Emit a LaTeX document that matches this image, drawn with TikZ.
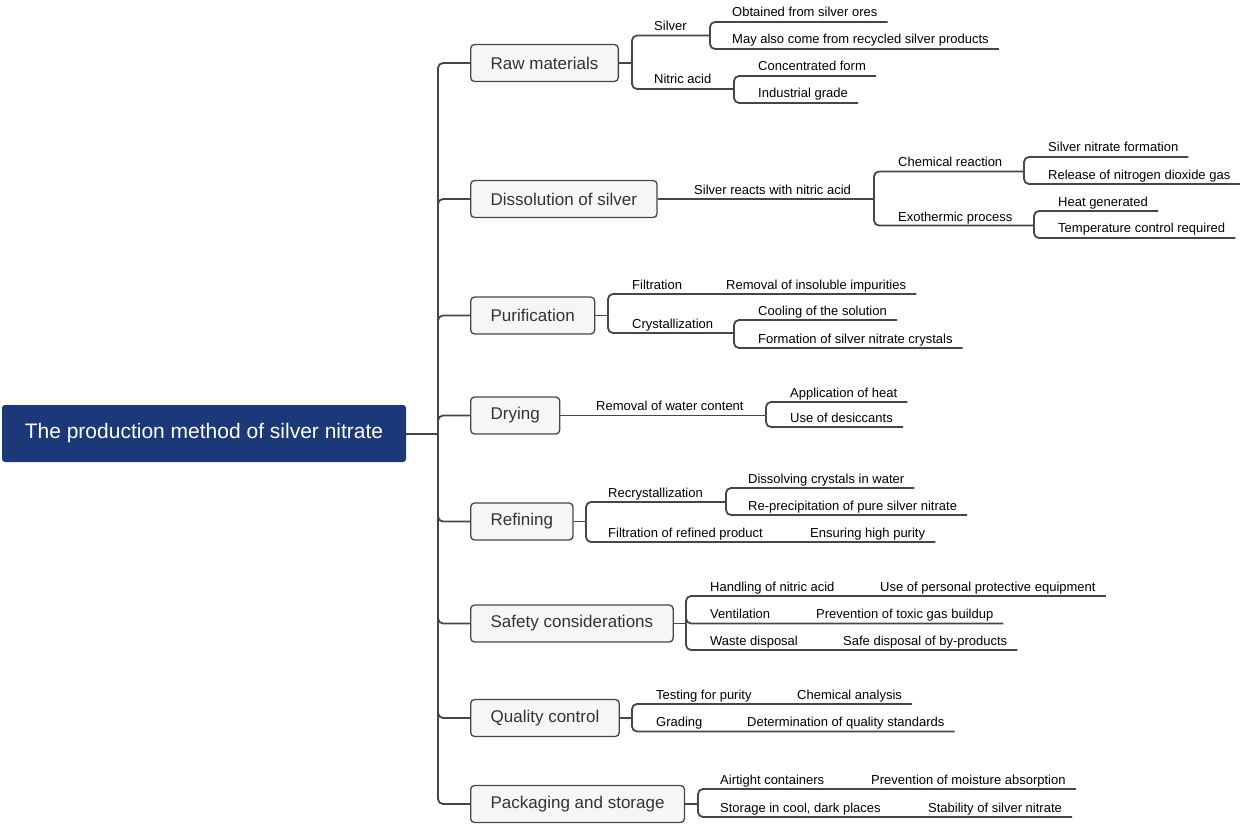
\documentclass[tikz,border=0pt]{standalone}
\usepackage{fontspec}
\setmainfont{Liberation Sans}
\usetikzlibrary{calc}
\definecolor{rootblue}{RGB}{27,56,121}
\definecolor{linegray}{RGB}{70,70,70}
\definecolor{boxfill}{RGB}{246,246,246}
\begin{document}
\begin{tikzpicture}[x=1pt, y=-1pt,
                    rnode/.style = {shape = rectangle,
                                    rounded corners = 3pt,
                                    fill = rootblue,
                                    text = white,
                                    minimum width = 404pt,
                                    minimum height = 57pt,
                                    font=\fontsize{21}{25}\selectfont},
                    bnode/.style = {shape = rectangle,
                                    rounded corners = 4pt,
                                    draw = linegray,
                                    line width = 1.3pt,
                                    fill = boxfill,
                                    text = black!80,
                                    anchor = west,
                                    inner xsep = 20pt,
                                    minimum height = 37pt,
                                    font=\fontsize{17}{20}\selectfont},
                    lnode/.style = {anchor = base west,
                                    inner sep = 0pt,
                                    font=\fontsize{13}{15}\selectfont},
                    conn/.style = {draw = linegray,
                                   line width = 1.8pt,
                                   rounded corners = 5pt}]
		\useasboundingbox (0,0) rectangle (1240,824);
		% root and spine
		\node[rnode] (root) at (204,433.5) {The production method of silver nitrate};
		\coordinate (sp) at (438,434);
		\draw[conn] (root.east |- sp) -- (sp);
		\node[bnode] (raw)  at (470,63)    {Raw materials};
		\node[bnode] (diss) at (470,199)   {Dissolution of silver};
		\node[bnode] (puri) at (470,315.5) {Purification};
		\node[bnode] (dry)  at (470,415.5) {Drying};
		\node[bnode] (refi) at (470,521.5) {Refining};
		\node[bnode] (safe) at (470,623.5) {Safety considerations};
		\node[bnode] (qual) at (470,718)   {Quality control};
		\node[bnode] (pack) at (470,804)   {Packaging and storage};
		\draw[conn] (sp) |- (raw.west);
		\draw[conn] (sp) |- (diss.west);
		\draw[conn] (sp) |- (puri.west);
		\draw[conn] (sp) |- (dry.west);
		\draw[conn] (sp) |- (refi.west);
		\draw[conn] (sp) |- (safe.west);
		\draw[conn] (sp) |- (qual.west);
		\draw[conn] (sp) |- (pack.west);
		% raw materials
		\coordinate (rawb) at (632,63);
		\draw[conn] (raw.east) -- (rawb);
		\node[lnode] (silver) at (654,31) {Silver};
		\node[lnode] (nitric) at (654,84) {Nitric acid};
		\coordinate (silverb) at (710,35.5);
		\coordinate (nitricb) at (734,89);
		\draw[conn] (rawb) |- (silverb);
		\draw[conn] (rawb) |- (nitricb);
		\node[lnode] (ores)  at (732,17) {Obtained from silver ores};
		\node[lnode] (recyc) at (732,44) {May also come from recycled silver products};
		\node[lnode] (conc)  at (758,71) {Concentrated form};
		\node[lnode] (indus) at (758,98) {Industrial grade};
		\draw[conn] (silverb) |- ($(ores.base east)+(10,5)$);
		\draw[conn] (silverb) |- ($(recyc.base east)+(10,5)$);
		\draw[conn] (nitricb) |- ($(conc.base east)+(10,5)$);
		\draw[conn] (nitricb) |- ($(indus.base east)+(10,5)$);
		% dissolution of silver
		\node[lnode] (react) at (694,194) {Silver reacts with nitric acid};
		\coordinate (reactb) at (874,199);
		\draw[conn] (diss.east) -- (reactb);
		\node[lnode] (chem) at (898,167) {Chemical reaction};
		\node[lnode] (exo)  at (898,221) {Exothermic process};
		\coordinate (chemb) at (1024,171.5);
		\coordinate (exob)  at (1034,225.5);
		\draw[conn] (reactb) |- (chemb);
		\draw[conn] (reactb) |- (exob);
		\node[lnode] (form) at (1048,152) {Silver nitrate formation};
		\node[lnode] (gas)  at (1048,179) {Release of nitrogen dioxide gas};
		\node[lnode] (heat) at (1058,206) {Heat generated};
		\node[lnode] (temp) at (1058,233) {Temperature control required};
		\draw[conn] (chemb) |- ($(form.base east)+(10,5)$);
		\draw[conn] (chemb) |- ($(gas.base east)+(10,5)$);
		\draw[conn] (exob) |- ($(heat.base east)+(10,5)$);
		\draw[conn] (exob) |- ($(temp.base east)+(10,5)$);
		% purification
		\coordinate (purib) at (608,315.5);
		\draw[conn] (puri.east) -- (purib);
		\node[lnode] (filt)  at (632,289) {Filtration};
		\node[lnode] (insol) at (726,289) {Removal of insoluble impurities};
		\node[lnode] (cryst) at (632,328) {Crystallization};
		\coordinate (crystb) at (734,333);
		\draw[conn] (purib) |- ($(insol.base east)+(10,5)$);
		\draw[conn] (purib) |- (crystb);
		\node[lnode] (cool)  at (758,315) {Cooling of the solution};
		\node[lnode] (cform) at (758,343) {Formation of silver nitrate crystals};
		\draw[conn] (crystb) |- ($(cool.base east)+(10,5)$);
		\draw[conn] (crystb) |- ($(cform.base east)+(10,5)$);
		% drying
		\node[lnode] (water) at (596,410.5) {Removal of water content};
		\coordinate (waterb) at (766,415.5);
		\draw[conn] (dry.east) -- (waterb);
		\node[lnode] (apply) at (790,397) {Application of heat};
		\node[lnode] (desic) at (790,422) {Use of desiccants};
		\draw[conn] (waterb) |- ($(apply.base east)+(10,5)$);
		\draw[conn] (waterb) |- ($(desic.base east)+(10,5)$);
		% refining
		\coordinate (refib) at (586,521.5);
		\draw[conn] (refi.east) -- (refib);
		\node[lnode] (recry) at (608,497) {Recrystallization};
		\node[lnode] (rfilt) at (608,537) {Filtration of refined product};
		\node[lnode] (purity) at (810,537) {Ensuring high purity};
		\coordinate (recryb) at (726,502);
		\draw[conn] (refib) |- (recryb);
		\draw[conn] (refib) |- ($(purity.base east)+(10,5)$);
		\node[lnode] (dissol) at (748,483) {Dissolving crystals in water};
		\node[lnode] (reprec) at (748,510) {Re-precipitation of pure silver nitrate};
		\draw[conn] (recryb) |- ($(dissol.base east)+(10,5)$);
		\draw[conn] (recryb) |- ($(reprec.base east)+(10,5)$);
		% safety considerations
		\coordinate (safeb) at (686,623.5);
		\draw[conn] (safe.east) -- (safeb);
		\node[lnode] (hand)  at (710,591)   {Handling of nitric acid};
		\node[lnode] (ppe)   at (880,591)   {Use of personal protective equipment};
		\node[lnode] (vent)  at (710,618.5) {Ventilation};
		\node[lnode] (toxic) at (816,618.5) {Prevention of toxic gas buildup};
		\node[lnode] (waste) at (710,645)   {Waste disposal};
		\node[lnode] (byprod) at (843,645)  {Safe disposal of by-products};
		\draw[conn] (safeb) |- ($(ppe.base east)+(10,5)$);
		\draw[conn] (safeb) |- ($(toxic.base east)+(10,5)$);
		\draw[conn] (safeb) |- ($(byprod.base east)+(10,5)$);
		% quality control
		\coordinate (qualb) at (632,718);
		\draw[conn] (qual.east) -- (qualb);
		\node[lnode] (test)  at (656,699)   {Testing for purity};
		\node[lnode] (anal)  at (797,699)   {Chemical analysis};
		\node[lnode] (grade) at (656,726.5) {Grading};
		\node[lnode] (stand) at (747,726.5) {Determination of quality standards};
		\draw[conn] (qualb) |- ($(anal.base east)+(10,5)$);
		\draw[conn] (qualb) |- ($(stand.base east)+(10,5)$);
		% packaging and storage
		\coordinate (packb) at (698,804);
		\draw[conn] (pack.east) -- (packb);
		\node[lnode] (air)   at (720,784) {Airtight containers};
		\node[lnode] (moist) at (871,784) {Prevention of moisture absorption};
		\node[lnode] (cold)  at (720,812) {Storage in cool, dark places};
		\node[lnode] (stab)  at (928,812) {Stability of silver nitrate};
		\draw[conn] (packb) |- ($(moist.base east)+(10,5)$);
		\draw[conn] (packb) |- ($(stab.base east)+(10,5)$);
	\end{tikzpicture}
\end{document}
